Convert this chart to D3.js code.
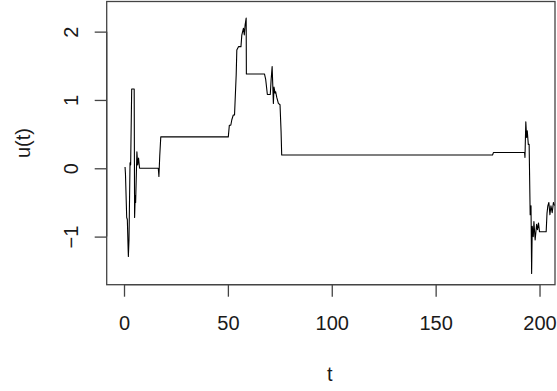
<!DOCTYPE html>
<html>
<head>
<meta charset="utf-8">
<script src="https://cdn.jsdelivr.net/npm/d3@7"></script>
<style>
  html, body { margin: 0; padding: 0; background: #fff; }
  svg text { font-family: "Liberation Sans", Arial, sans-serif; fill: #1a1a1a; }
</style>
</head>
<body>
<svg id="chart" width="557" height="391"></svg>
<script>
// Path of u(t): time points and values
const tVals = [0.5, 0.7, 1.3, 1.6, 2.0, 2.1, 2.4, 2.9, 3.2, 3.7, 4.9, 5.1, 5.4, 5.6, 6.2, 6.6, 7.0, 7.5,
  16.5, 16.8, 17.2, 17.7, 50.2, 50.7, 51.4, 51.9, 52.6, 53.2, 54.0, 54.3, 55.1, 56.3, 56.7, 57.5, 57.9,
  58.3, 58.8, 58.9, 67.6, 68.2, 69.0, 70.4, 70.8, 71.3, 71.9, 72.2, 72.7, 73.0, 73.5, 74.3, 75.1, 75.6,
  75.9, 177.4, 177.8, 192.8, 193.0, 193.4, 193.8, 194.1, 194.6, 195.0, 195.5, 195.9, 196.2, 196.5, 197.0,
  197.3, 197.9, 198.6, 199.0, 199.5, 200.0, 203.2, 203.6, 204.0, 204.5, 205.0, 205.5, 206.1, 206.7, 207.4];
const uVals = [0.02, -0.08, -0.72, -0.75, -1.2, -1.29, -1.05, 0.08, 0.05, 1.16, 1.16, -0.72, -0.4, -0.5, 0.24, 0.05, 0.15, 0.0,
  0.0, -0.12, 0.18, 0.46, 0.46, 0.63, 0.63, 0.71, 0.78, 0.78, 1.37, 1.73, 1.78, 1.78, 1.95, 2.05, 1.95,
  2.1, 2.2, 1.38, 1.38, 1.3, 1.08, 1.08, 1.29, 1.49, 0.95, 1.19, 1.1, 1.12, 1.04, 0.95, 0.93, 0.54,
  0.195, 0.195, 0.23, 0.23, 0.16, 0.68, 0.45, 0.55, 0.35, 0.35, -0.68, -0.55, -1.54, -0.85, -1.0,
  -0.78, -1.05, -0.82, -0.9, -0.8, -0.93, -0.93, -0.66, -0.55, -0.5, -0.68, -0.55, -0.65, -0.5, -0.55];

const xTicks = [0, 50, 100, 150, 200];
const yTicks = [-1, 0, 1, 2];
const xTitle = "t";
const yTitle = "u(t)";

const svg = d3.select("#chart");
const box = { left: 106.7, right: 555, top: 1.5, bottom: 284.7 };

const x = d3.scaleLinear().domain([-8.33, 207.45]).range([box.left, box.right]);
const y = d3.scaleLinear().domain([-1.704, 2.441]).range([box.bottom, box.top]);

const data = tVals.map((t, i) => ({ t, u: uVals[i] }));

svg.append("defs").append("clipPath").attr("id", "plotArea")
  .append("rect")
  .attr("x", box.left).attr("y", box.top)
  .attr("width", box.right - box.left).attr("height", box.bottom - box.top);

// series line
svg.append("path")
  .datum(data)
  .attr("clip-path", "url(#plotArea)")
  .attr("fill", "none")
  .attr("stroke", "#000")
  .attr("stroke-width", 1.1)
  .attr("stroke-linejoin", "round")
  .attr("d", d3.line().x(d => x(d.t)).y(d => y(d.u)));

// frame
svg.append("rect")
  .attr("x", box.left).attr("y", box.top)
  .attr("width", box.right - box.left).attr("height", box.bottom - box.top)
  .attr("fill", "none").attr("stroke", "#444").attr("stroke-width", 1.3);

// x axis
const xAxis = d3.axisBottom(x).tickValues(xTicks).tickFormat(d3.format("d"))
  .tickSize(12).tickPadding(19).tickSizeOuter(0);
const gx = svg.append("g").attr("transform", `translate(0,${box.bottom})`).call(xAxis);
gx.select(".domain")
  .attr("d", `M${x(xTicks[0])},0H${x(xTicks[xTicks.length - 1])}`)
  .attr("stroke", "#444").attr("stroke-width", 1.3);
gx.selectAll(".tick line").attr("stroke", "#444").attr("stroke-width", 1.3);
gx.selectAll(".tick text").attr("font-size", 20).attr("font-family", "Liberation Sans, Arial, sans-serif").attr("fill", "#1a1a1a");

// y axis
const yAxis = d3.axisLeft(y).tickValues(yTicks).tickFormat(d3.format("d"))
  .tickSize(12).tickPadding(0).tickSizeOuter(0);
const gy = svg.append("g").attr("transform", `translate(${box.left},0)`).call(yAxis);
gy.select(".domain")
  .attr("d", `M0,${y(yTicks[0])}V${y(yTicks[yTicks.length - 1])}`)
  .attr("stroke", "#444").attr("stroke-width", 1.3);
gy.selectAll(".tick line").attr("stroke", "#444").attr("stroke-width", 1.3);
gy.selectAll(".tick text")
  .attr("font-size", 20).attr("font-family", "Liberation Sans, Arial, sans-serif").attr("fill", "#1a1a1a")
  .attr("x", null).attr("dy", null)
  .attr("text-anchor", "middle")
  .attr("dominant-baseline", "central")
  .attr("transform", "translate(-36,0) rotate(-90)");

// axis titles
svg.append("text")
  .attr("x", (box.left + box.right) / 2 - 1).attr("y", 381)
  .attr("text-anchor", "middle").attr("font-size", 20).text(xTitle);
svg.append("text")
  .attr("transform", `translate(22.5,${(box.top + box.bottom) / 2}) rotate(-90)`)
  .attr("text-anchor", "middle").attr("dominant-baseline", "central")
  .attr("font-size", 20).text(yTitle);
</script>
</body>
</html>
